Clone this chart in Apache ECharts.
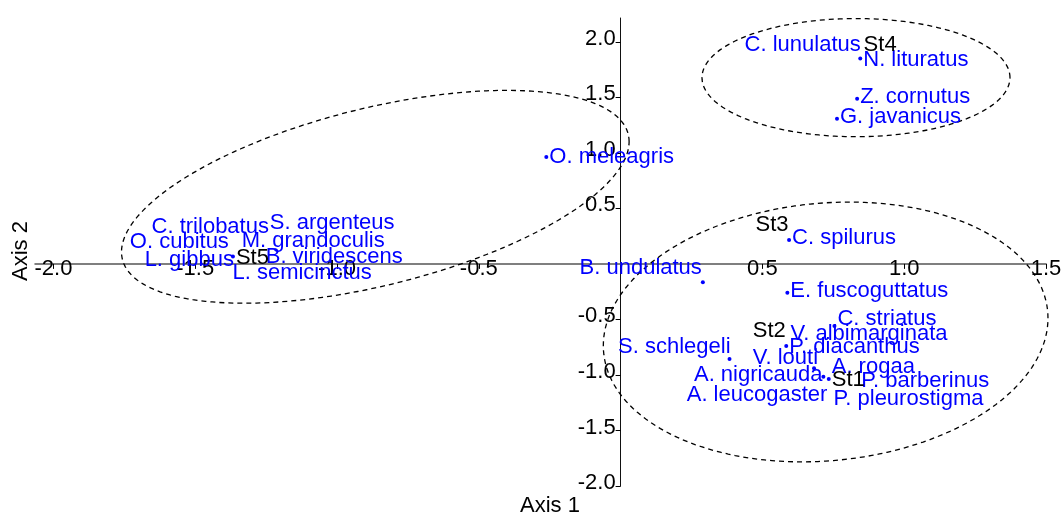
<!DOCTYPE html>
<html>
<head>
<meta charset="utf-8">
<script src="https://cdn.jsdelivr.net/npm/echarts@6/dist/echarts.min.js"></script>
<style>
html,body{margin:0;padding:0;background:#fff;}
#chart{width:1064px;height:516px;}
</style>
</head>
<body>
<div id="chart"></div>
<script>
// ---- data ----
const speciesNames = ['O. meleagris','N. lituratus','Z. cornutus','G. javanicus','C. lunulatus','C. spilurus','B. undulatus','E. fuscoguttatus','C. striatus','V. albimarginata','P. diacanthus','S. schlegeli','V. louti','A. nigricauda','A. rogaa','P. barberinus','P. pleurostigma','A. leucogaster','C. trilobatus','S. argenteus','O. cubitus','M. grandoculis','L. gibbus','B. viridescens','L. semicinctus'];
const speciesX = [-0.262,0.845,0.834,0.763,0.642,0.594,0.290,0.588,0.754,0.876,0.584,0.384,0.682,0.715,0.891,1.074,1.015,0.481,-1.447,-1.017,-1.556,-1.084,-1.521,-1.010,-1.123];
const speciesY = [0.962,1.849,1.488,1.307,1.975,0.216,-0.165,-0.259,-0.559,-0.634,-0.739,-0.857,-0.940,-1.016,-0.926,-1.055,-1.217,-1.181,0.334,0.370,0.198,0.207,0.036,0.063,-0.081];

const stationNames = ['St1','St2','St3','St4','St5'];
const stationX = [0.734,0.524,0.534,0.915,-1.367];
const stationY = [-1.037,-0.604,0.352,1.975,0.066];

// ellipses: centre x, centre y, semi-diameter U (x,y), conjugate semi-diameter V (x,y)
const ellipseLeft  = [-0.865, 0.604, 0.895, 0.496, 0, 0.82];
const ellipseTop   = [0.830, 1.677, 0.543, 0, 0, 0.532];
const ellipseRight = [0.723, -0.613, 0.784, 0.124, 0, 1.163];

const xTickValues = [-2, -1.5, -1, -0.5, 0.5, 1, 1.5];
const yTickValues = [-2, -1.5, -1, -0.5, 0.5, 1, 1.5, 2];

const X_MIN = -2.065, X_MAX = 1.5, Y_MIN = -2, Y_MAX = 2.214;

// ---- layout / style ----
const GRID = { left: 35, right: 18, top: 18, bottom: 30 };
const W = 1064, H = 516;
const gridW = W - GRID.left - GRID.right, gridH = H - GRID.top - GRID.bottom;
// shift axes so they cross at the origin (through the axis ranges)
const xAxisOffset = -((0 - Y_MIN) / (Y_MAX - Y_MIN)) * gridH;
const yAxisOffset = -((0 - X_MIN) / (X_MAX - X_MIN)) * gridW;

const labelLayout = {
  'O. meleagris':['R',0], 'N. lituratus':['R',1], 'Z. cornutus':['R',-2], 'G. javanicus':['R',-2],
  'C. spilurus':['R',-2], 'E. fuscoguttatus':['R',-2], 'C. striatus':['R',-7], 'P. diacanthus':['R',1],
  'B. undulatus':['L',-1,-14], 'S. schlegeli':['L',1,-12], 'V. louti':['L',4,-10], 'A. nigricauda':['L',-1,-2],
  'St1':['R',1], 'St5':['R',1]
};

const FONT = "'Liberation Sans', Arial, sans-serif";
const BLUE = '#0000ff';

function makeItems(names, xs, ys) {
  return names.map((n, i) => {
    const l = labelLayout[n] || ['C'];
    const item = { name: n, value: [xs[i], ys[i]] };
    if (l[0] === 'R') {
      item.symbolSize = 4;
      item.label = { position: 'inside', align: 'left', verticalAlign: 'middle', offset: [3, l[1]] };
    } else if (l[0] === 'L') {
      item.symbolSize = 4;
      item.label = { position: 'inside', align: 'right', verticalAlign: 'middle', offset: [l[1], l[2]] };
    } else {
      item.symbolSize = 0;
      item.label = { position: 'inside', align: 'center', verticalAlign: 'middle', offset: [0, 0] };
    }
    return item;
  });
}

function ellipseRender(params, api) {
  const cx = api.value(0), cy = api.value(1), ux = api.value(2), uy = api.value(3), vx = api.value(4), vy = api.value(5);
  const pts = [];
  const N = 180;
  for (let k = 0; k < N; k++) {
    const t = 2 * Math.PI * k / N;
    const c = Math.cos(t), s = Math.sin(t);
    pts.push(api.coord([cx + ux * c + vx * s, cy + uy * c + vy * s]));
  }
  return {
    type: 'polygon',
    shape: { points: pts },
    style: { fill: 'none', stroke: '#000', lineWidth: 1.3, lineDash: [5, 4] },
    silent: true
  };
}

const chart = echarts.init(document.getElementById('chart'), null, { renderer: 'canvas' });
chart.setOption({
  animation: false,
  backgroundColor: '#fff',
  textStyle: { fontFamily: FONT },
  grid: { left: GRID.left, right: GRID.right, top: GRID.top, bottom: GRID.bottom, containLabel: false, outerBoundsMode: 'none' },
  xAxis: {
    type: 'value', min: X_MIN, max: X_MAX, position: 'bottom', offset: xAxisOffset,
    axisLine: { onZero: false, lineStyle: { color: '#555', width: 1.5 } },
    axisTick: { show: true, length: 5, customValues: xTickValues, lineStyle: { color: '#000' } },
    axisLabel: { customValues: xTickValues, color: '#000', fontSize: 22, fontFamily: FONT, margin: 5, verticalAlign: 'middle',
      formatter: v => v.toFixed(1) },
    splitLine: { show: false }
  },
  yAxis: {
    type: 'value', min: Y_MIN, max: Y_MAX, position: 'left', offset: yAxisOffset,
    axisLine: { onZero: false, lineStyle: { color: '#111', width: 1 } },
    axisTick: { show: true, length: 5, customValues: yTickValues, lineStyle: { color: '#000' } },
    axisLabel: { customValues: yTickValues, color: '#000', fontSize: 22, fontFamily: FONT, margin: 5,
      verticalAlign: 'bottom', lineHeight: 6, formatter: v => v.toFixed(1) },
    splitLine: { show: false }
  },
  graphic: [
    { type: 'text', x: 550, y: 506, style: { text: 'Axis 1', font: '22px ' + FONT, fill: '#000', align: 'center', verticalAlign: 'middle' } },
    { type: 'text', x: 21, y: 251, rotation: Math.PI / 2, style: { text: 'Axis 2', font: '22px ' + FONT, fill: '#000', align: 'center', verticalAlign: 'middle' } }
  ],
  series: [
    {
      type: 'custom', name: 'ellipses', renderItem: ellipseRender, clip: false,
      encode: { x: 0, y: 1 },
      data: [ellipseLeft, ellipseTop, ellipseRight], z: 1
    },
    {
      type: 'scatter', name: 'species', symbol: 'circle',
      itemStyle: { color: BLUE, opacity: 1 },
      label: { show: true, formatter: p => p.name, color: BLUE, fontSize: 22, fontFamily: FONT },
      data: makeItems(speciesNames, speciesX, speciesY), z: 3
    },
    {
      type: 'scatter', name: 'stations', symbol: 'circle',
      itemStyle: { color: BLUE, opacity: 1 },
      label: { show: true, formatter: p => p.name, color: '#000', fontSize: 22, fontFamily: FONT },
      data: makeItems(stationNames, stationX, stationY), z: 4
    }
  ]
});
</script>
</body>
</html>
